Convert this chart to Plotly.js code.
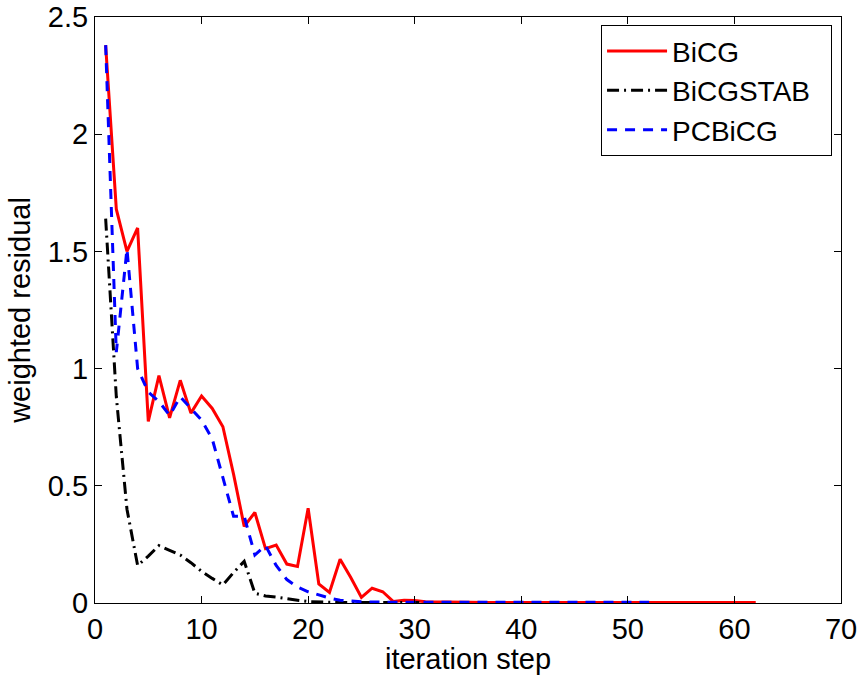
<!DOCTYPE html>
<html>
<head>
<meta charset="utf-8">
<script src="https://cdn.plot.ly/plotly-3.0.1.min.js"></script>
<style>html,body{margin:0;padding:0;background:#fff;}#chart{width:861px;height:675px;}</style>
</head>
<body>
<div id="chart"></div>
<script>
// BiCG residuals, iterations 1..62
const bicgX = [];
for (let i = 1; i <= 62; i++) bicgX.push(i);
const bicgY = [2.38, 1.68, 1.50, 1.60, 0.775, 0.97, 0.79, 0.95, 0.81, 0.883,
  0.83, 0.752, 0.55, 0.327, 0.386, 0.232, 0.247, 0.166, 0.156, 0.404,
  0.081, 0.045, 0.187, 0.109, 0.024, 0.063, 0.048, 0.006, 0.012, 0.011,
  0.005, 0.004, 0.003, 0.003, 0.002, 0.002, 0.002, 0.002, 0.002, 0.002,
  0.002, 0.002, 0.002, 0.002, 0.002, 0.002, 0.002, 0.002, 0.002, 0.002,
  0.002, 0.002, 0.002, 0.002, 0.002, 0.002, 0.002, 0.002, 0.002, 0.002,
  0.002, 0.002];

// BiCGSTAB residuals, iterations 1..31
const stabX = [];
for (let i = 1; i <= 31; i++) stabX.push(i);
const stabY = [1.64, 0.88, 0.40, 0.16, 0.20, 0.245, 0.225, 0.205, 0.172, 0.135,
  0.105, 0.077, 0.13, 0.178, 0.042, 0.03, 0.025, 0.02, 0.012, 0.006,
  0.004, 0.002, 0.002, 0.002, 0.002, 0.002, 0.002, 0.002, 0.002, 0.002,
  0.002];

// PCBiCG residuals, iterations 1..52
const pcX = [];
for (let i = 1; i <= 52; i++) pcX.push(i);
const pcY = [2.38, 1.07, 1.51, 1.0, 0.9, 0.86, 0.80, 0.88, 0.83, 0.78,
  0.70, 0.53, 0.37, 0.37, 0.205, 0.245, 0.16, 0.10, 0.068, 0.048,
  0.035, 0.021, 0.012, 0.008, 0.005, 0.004, 0.003, 0.003, 0.003, 0.003,
  0.003, 0.003, 0.003, 0.003, 0.003, 0.003, 0.003, 0.003, 0.003, 0.003,
  0.003, 0.003, 0.003, 0.003, 0.003, 0.003, 0.003, 0.003, 0.003, 0.003,
  0.003, 0.003];

const seriesNames = ['BiCG', 'BiCGSTAB', 'PCBiCG'];
const xTicks = [0, 10, 20, 30, 40, 50, 60, 70];
const yTicks = [0, 0.5, 1, 1.5, 2, 2.5];
const yTickText = ['0', '0.5', '1', '1.5', '2', '2.5'];

const FONT = 'Liberation Sans, Arial, Helvetica, sans-serif';
const PAD = '\u00a0\u00a0';

const traces = [
  {x: bicgX, y: bicgY, name: seriesNames[0] + PAD, type: 'scatter', mode: 'lines',
   line: {color: '#ff0000', width: 3}},
  {x: stabX, y: stabY, name: seriesNames[1] + PAD, type: 'scatter', mode: 'lines',
   line: {color: '#000000', width: 3, dash: '12px,5px,2px,5px'}},
  {x: pcX, y: pcY, name: seriesNames[2] + PAD, type: 'scatter', mode: 'lines',
   line: {color: '#0000ff', width: 3, dash: '10px,8px'}}
];

const layout = {
  width: 861, height: 675,
  margin: {l: 95, r: 20, t: 17, b: 72, pad: 0},
  paper_bgcolor: '#ffffff', plot_bgcolor: '#ffffff',
  font: {family: FONT, size: 29, color: '#000'},
  showlegend: true,
  legend: {
    x: 0.988, y: 0.986, xanchor: 'right', yanchor: 'top',
    bgcolor: '#ffffff', bordercolor: '#000000', borderwidth: 1,
    font: {family: FONT, size: 28, color: '#000'},
    itemwidth: 60, tracegroupgap: 0
  },
  xaxis: {
    range: [0, 70], tickvals: xTicks, ticktext: xTicks.map(String),
    ticks: 'inside', ticklen: 7, tickwidth: 1, tickcolor: '#000',
    showline: true, linecolor: '#000', linewidth: 1, mirror: 'ticks',
    showgrid: false, zeroline: false,
    tickfont: {family: FONT, size: 29, color: '#000'},
    title: {text: 'iteration step', font: {family: FONT, size: 29, color: '#000'}, standoff: 2}
  },
  yaxis: {
    range: [0, 2.5], tickvals: yTicks, ticktext: yTickText,
    ticks: 'inside', ticklen: 7, tickwidth: 1, tickcolor: '#000',
    showline: true, linecolor: '#000', linewidth: 1, mirror: 'ticks',
    showgrid: false, zeroline: false,
    tickfont: {family: FONT, size: 29, color: '#000'},
    title: {text: 'weighted residual', font: {family: FONT, size: 29, color: '#000'}, standoff: 8}
  }
};

Plotly.newPlot('chart', traces, layout, {staticPlot: true, displayModeBar: false});
</script>
</body>
</html>
